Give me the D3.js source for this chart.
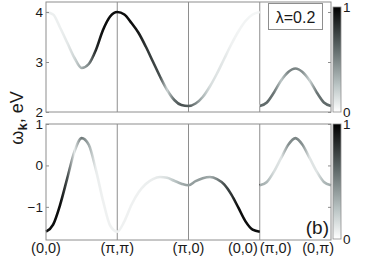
<!DOCTYPE html>
<html>
<head>
<meta charset="utf-8">
<script src="https://cdn.jsdelivr.net/npm/d3@7"></script>
<style>
body { margin: 0; background: #fff; }
text { font-family: "Liberation Sans", Arial, sans-serif; fill: #1a1a1a; }
</style>
</head>
<body>
<svg id="chart" width="374" height="259"></svg>
<script>
// k path position, 4 equal legs: (0,0)->(pi,pi)->(pi,0)->(0,0) | (pi,0)->(0,pi)
// the last leg starts again at k=3 (index 31), so the curve is broken there
var kPath = [0, 0.1, 0.2, 0.3, 0.4, 0.5, 0.6, 0.7, 0.8, 0.9,
             1, 1.1, 1.2, 1.3, 1.4, 1.5, 1.6, 1.7, 1.8, 1.9,
             2, 2.1, 2.2, 2.3, 2.4, 2.5, 2.6, 2.7, 2.8, 2.9,
             3,
             3, 3.1, 3.2, 3.3, 3.4, 3.5, 3.6, 3.7, 3.8, 3.9, 4];
var legBreak = 31;

// upper panel: band energy (eV) and spectral weight
var omegaTop = [4.0, 3.95, 3.68, 3.38, 3.08, 2.88, 2.96, 3.24, 3.64, 3.91,
                4.0, 3.95, 3.78, 3.58, 3.31, 3.01, 2.71, 2.44, 2.24, 2.14,
                2.12, 2.17, 2.30, 2.51, 2.77, 3.06, 3.35, 3.61, 3.82, 3.95,
                4.0,
                2.12, 2.19, 2.39, 2.63, 2.80, 2.87, 2.80, 2.63, 2.39, 2.19, 2.12];
var weightTop = [0.07, 0.07, 0.07, 0.1, 0.18, 0.35, 0.5, 0.85, 0.95, 0.95,
                 0.95, 0.95, 0.95, 0.9, 0.8, 0.75, 0.7, 0.2, 0.6, 0.7,
                 0.65, 0.5, 0.3, 0.15, 0.12, 0.1, 0.06, 0.05, 0.05, 0.04,
                 0.04,
                 0.6, 0.6, 0.55, 0.25, 0.5, 0.5, 0.45, 0.2, 0.55, 0.6, 0.6];

// lower panel
var omegaBot = [-1.60, -1.43, -0.94, -0.30, 0.34, 0.66, 0.50, -0.10, -0.85, -1.45,
                -1.60, -1.35, -0.95, -0.65, -0.45, -0.33, -0.28, -0.30, -0.37, -0.44,
                -0.48, -0.38, -0.31, -0.28, -0.33, -0.46, -0.70, -1.02, -1.35, -1.55,
                -1.60,
                -0.48, -0.40, -0.15, 0.18, 0.50, 0.66, 0.50, 0.18, -0.15, -0.40, -0.48];
var weightBot = [0.95, 0.95, 0.95, 0.7, 0.12, 0.55, 0.35, 0.08, 0.06, 0.06,
                 0.06, 0.06, 0.06, 0.06, 0.07, 0.08, 0.1, 0.15, 0.25, 0.35,
                 0.4, 0.4, 0.4, 0.35, 0.5, 0.7, 0.8, 0.95, 0.95, 0.95,
                 0.95,
                 0.35, 0.3, 0.15, 0.12, 0.45, 0.5, 0.45, 0.12, 0.12, 0.3, 0.35];

var kTicks = [0, 1, 2, 3, 3, 4];
var kTickLabels = ["(0,0)", "(\u03c0,\u03c0)", "(\u03c0,0)", "(0,0)", "(\u03c0,0)", "(0,\u03c0)"];
var kTickAnchor = ["middle", "middle", "middle", "end", "start", "end"];
var topTicks = [2, 3, 4];
var botTicks = [-1, 0, 1];

var frameColor = "#8e8e8e";
var svg = d3.select("#chart");
var defs = svg.append("defs");

var x = d3.scaleLinear().domain([0, 4]).range([46, 331]);
var yTop = d3.scaleLinear().domain([2, 4.2]).range([112, 2]);
var yBot = d3.scaleLinear().domain([-1.8, 1]).range([240, 124]);

// reversed bone-like map: 0 -> white, 1 -> black
var cmap = d3.scaleLinear()
    .domain([0, 0.25, 0.625, 1])
    .range(["#ffffff", "#bcc6c6", "#596363", "#000000"])
    .clamp(true);

function panel(y, omega, weight, ticks, id) {
    var y0 = y.range()[0], y1 = y.range()[1];

    // colour along k
    var grad = defs.append("linearGradient")
        .attr("id", id)
        .attr("gradientUnits", "userSpaceOnUse")
        .attr("x1", x(0)).attr("x2", x(4))
        .attr("y1", 0).attr("y2", 0);
    grad.selectAll("stop")
        .data(kPath)
        .enter().append("stop")
        .attr("offset", function(d) { return d / 4; })
        .attr("stop-color", function(d, i) { return cmap(weight[i]); });

    // leg separators
    svg.append("g").selectAll("line")
        .data([1, 2, 3])
        .enter().append("line")
        .attr("x1", x).attr("x2", x)
        .attr("y1", y0).attr("y2", y1)
        .attr("stroke", frameColor)
        .attr("stroke-width", 1);

    var line = d3.line()
        .x(function(d) { return x(d[0]); })
        .y(function(d) { return y(d[1]); })
        .curve(d3.curveMonotoneX);

    var pts = kPath.map(function(k, i) { return [k, omega[i]]; });
    [pts.slice(0, legBreak), pts.slice(legBreak)].forEach(function(p) {
        svg.append("path")
            .datum(p)
            .attr("d", line)
            .attr("fill", "none")
            .attr("stroke", "url(#" + id + ")")
            .attr("stroke-width", 2.6);
    });

    var left = svg.append("g")
        .attr("transform", "translate(" + x(0) + ",0)")
        .call(d3.axisLeft(y).tickValues(ticks).tickSize(-3).tickPadding(3));
    left.select(".domain").remove();
    left.selectAll("line").attr("stroke", frameColor);
    left.selectAll("text")
        .style("font-size", "13.5px")
        .style("font-family", "'Liberation Sans', Arial, sans-serif")
        .attr("fill", "#1a1a1a")
        .text(function(d) { return d < 0 ? "\u2212" + Math.abs(d) : d; });

    var right = svg.append("g")
        .attr("transform", "translate(" + x(4) + ",0)")
        .call(d3.axisRight(y).tickValues(ticks).tickSize(-3).tickFormat(""));
    right.select(".domain").remove();
    right.selectAll("line").attr("stroke", frameColor);

    svg.append("rect")
        .attr("x", x(0)).attr("y", y1)
        .attr("width", x(4) - x(0)).attr("height", y0 - y1)
        .attr("fill", "none")
        .attr("stroke", frameColor)
        .attr("stroke-width", 1);
}

panel(yTop, omegaTop, weightTop, topTicks, "gTop");
panel(yBot, omegaBot, weightBot, botTicks, "gBot");

// colorbars
var cbGrad = defs.append("linearGradient")
    .attr("id", "cbar")
    .attr("x1", 0).attr("x2", 0).attr("y1", 1).attr("y2", 0);
cbGrad.selectAll("stop")
    .data(cmap.domain())
    .enter().append("stop")
    .attr("offset", function(d) { return d; })
    .attr("stop-color", function(d) { return cmap(d); });

[[7, 112], [124, 239]].forEach(function(b) {
    svg.append("rect")
        .attr("x", 333).attr("y", b[0])
        .attr("width", 8).attr("height", b[1] - b[0])
        .attr("fill", "url(#cbar)")
        .attr("stroke", frameColor)
        .attr("stroke-width", 0.8);
    svg.append("text").attr("x", 343).attr("y", b[0] + 5)
        .style("font-size", "13.5px").text("1");
    svg.append("text").attr("x", 343).attr("y", b[1] + 5)
        .style("font-size", "13.5px").text("0");
});

// k labels
svg.append("g").selectAll("text")
    .data(kTicks)
    .enter().append("text")
    .attr("x", function(d, i) {
        var off = {middle: 0, end: -2, start: 0}[kTickAnchor[i]];
        if (i == 5) off = 3;
        return x(d) + off;
    })
    .attr("y", 253)
    .attr("text-anchor", function(d, i) { return kTickAnchor[i]; })
    .style("font-size", "14.5px")
    .text(function(d, i) { return kTickLabels[i]; });

// lambda box
svg.append("rect")
    .attr("x", 268.5).attr("y", 3.5)
    .attr("width", 54).attr("height", 26)
    .attr("fill", "#fff")
    .attr("stroke", frameColor);
svg.append("text")
    .attr("x", 295.5).attr("y", 23)
    .attr("text-anchor", "middle")
    .style("font-size", "16px")
    .text("\u03bb=0.2");

svg.append("text")
    .attr("x", 329).attr("y", 234)
    .attr("text-anchor", "end")
    .style("font-size", "19px")
    .text("(b)");

// y label
var ylab = svg.append("text")
    .attr("transform", "translate(23,118) rotate(-90)")
    .attr("text-anchor", "middle")
    .style("font-size", "18px");
ylab.append("tspan").text("\u03c9");
ylab.append("tspan").attr("dy", 4).style("font-size", "13px").style("font-weight", "bold").text("k");
ylab.append("tspan").attr("dy", -4).text(", eV");
</script>
</body>
</html>
